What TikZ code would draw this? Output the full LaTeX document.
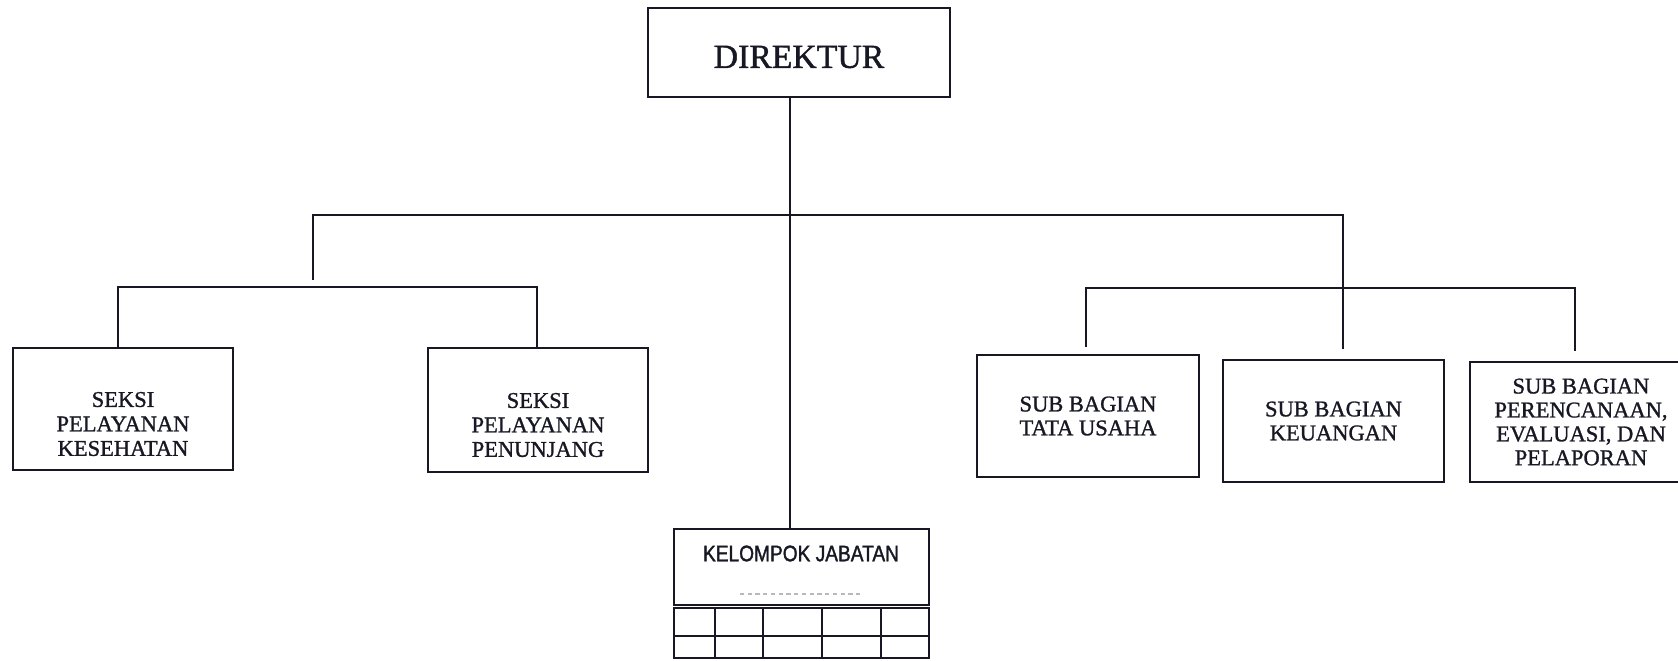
\documentclass[tikz,border=0pt]{standalone}
\usepackage{fontspec}
\setmainfont{Liberation Serif}[BoldFont=Liberation Serif, BoldFeatures={FakeBold=1.2}]
\newfontfamily\kjfont{Liberation Sans}[FakeStretch=0.85, BoldFont=Liberation Sans, BoldFeatures={FakeBold=1.5}]
\definecolor{ink}{RGB}{24,24,36}
\begin{document}
\begin{tikzpicture}[x=0.025cm,y=-0.025cm,
  bx/.style 2 args={draw=ink, text=ink, line width=1.8pt, minimum width=#1*0.025cm, minimum height=#2*0.025cm, inner sep=0pt, align=center, font=\bfseries\fontsize{16}{17}\selectfont},
  conn/.style={draw=ink, line width=1.7pt},
  lbl/.style={text=ink, align=center, inner sep=0pt, font=\bfseries\fontsize{16}{17.4}\selectfont}]
\useasboundingbox (0,0) rectangle (1678,660);
\clip (0,0) rectangle (1678,660);

% boxes
\node[bx={302}{89}] (dir) at (799,52.5) {};
\node[text=ink, inner sep=0pt, font=\bfseries\fontsize{24}{28}\selectfont] (dirt) at (799,57) {DIREKTUR};

\node[bx={220}{122}] (s1) at (123,409) {};
\node[lbl] (s1t) at (123,424) {SEKSI\\PELAYANAN\\KESEHATAN};
\node[bx={220}{124}] (s2) at (538,410) {};
\node[lbl] (s2t) at (538,425) {SEKSI\\PELAYANAN\\PENUNJANG};

\node[bx={222}{122}] (k3) at (1088,416) {SUB BAGIAN\\TATA USAHA};
\node[bx={221}{122}] (k4) at (1333.5,421) {SUB BAGIAN\\KEUANGAN};
\node[bx={222}{120}] (k5) at (1581,422) {SUB BAGIAN\\PERENCANAAN,\\EVALUASI, DAN\\PELAPORAN};

\node[bx={255}{76}] (kj) at (801.5,567) {};
\node[text=ink, inner sep=0pt, font=\kjfont\bfseries\fontsize{16}{18}\selectfont] (kjt) at (801,553.5) {KELOMPOK JABATAN};
\coordinate (dl1) at (740,594);
\coordinate (dl2) at (860,594);
\draw[gray!55, line width=1pt, dash pattern=on 3pt off 2.5pt] (dl1) -- (dl2);

% grid under KELOMPOK JABATAN
\coordinate (gtl) at (674,608);
\coordinate (gbr) at (929,658);
\draw[conn] (gtl) rectangle (gbr);
\draw[conn] (gtl |- 0,636) -- (gbr |- 0,636);
\foreach \gx in {715,763,822,881} {\draw[conn] (\gx,608) -- (\gx,658);}

% connectors
\coordinate (trunk) at (790,0);
\draw[conn] (dir.south -| trunk) -- (kj.north -| trunk);

\coordinate (tl) at (313,215);
\coordinate (tr) at (1343,215);
\coordinate (tlb) at (313,280);
\draw[conn] (tlb) -- (tl) -- (tr) -- ([yshift=0.25cm]k4.north -| tr);

\coordinate (ll) at (118,287);
\coordinate (lr) at (537,287);
\draw[conn] (s1.north -| ll) -- (ll) -- (lr) -- (s2.north -| lr);

\coordinate (rl) at (1086,288);
\coordinate (rr) at (1575,288);
\draw[conn] ([yshift=0.175cm]k3.north -| rl) -- (rl) -- (rr) -- ([yshift=0.25cm]k5.north -| rr);
\end{tikzpicture}
\end{document}
